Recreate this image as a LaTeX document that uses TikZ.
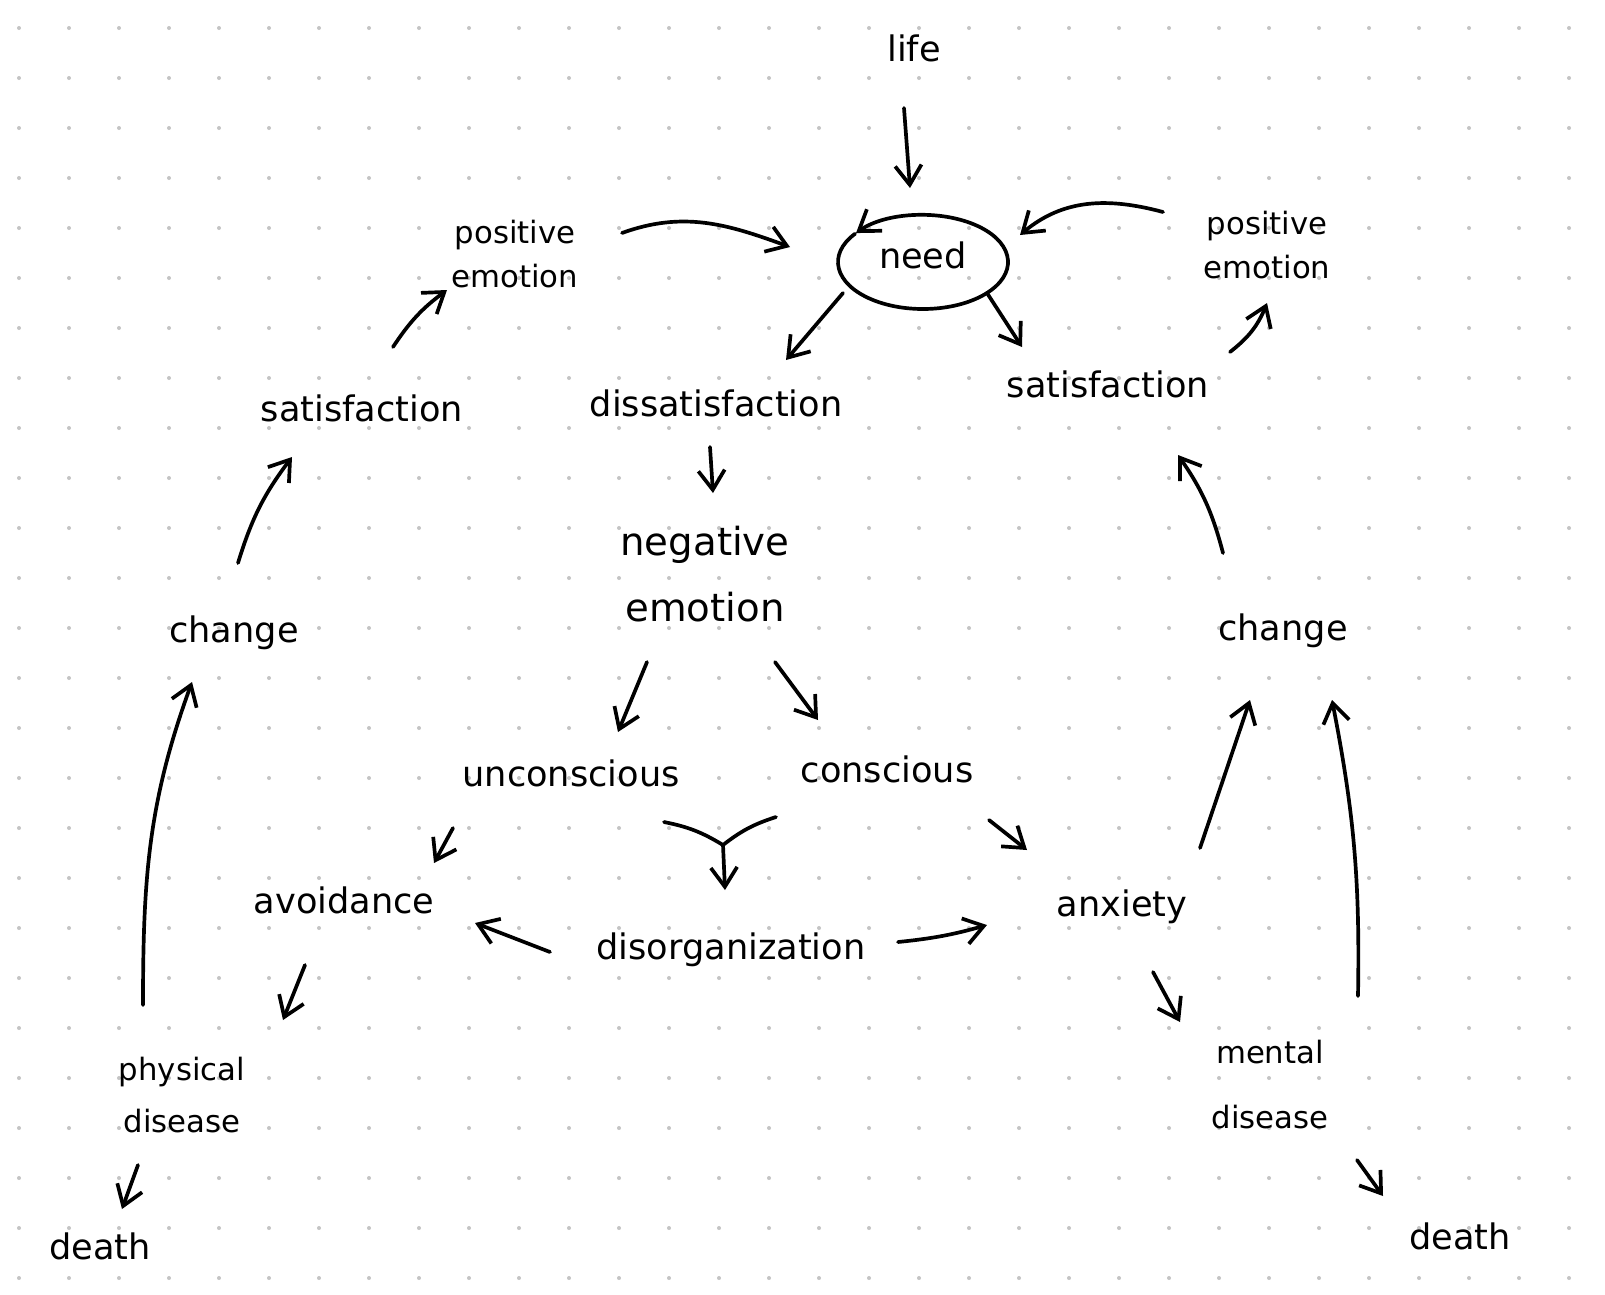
\documentclass[tikz,border=0pt]{standalone}
\usepackage{fontspec}
\setmainfont{DejaVu Sans}
\usetikzlibrary{arrows.meta}
\definecolor{dotgray}{RGB}{196,196,196}
\tikzset{
  word/.style={font=\fontsize{20}{24}\selectfont, text height=1.5ex, text depth=.25ex, inner sep=0pt},
  pair/.style={align=center, inner sep=0pt},
  pen/.style={line width=2.1pt, line cap=round, line join=round},
  arr/.style={pen, -{Straight Barb[length=11pt,width=15pt]}}
}
\begin{document}
\begin{tikzpicture}
\fill[white] (0,0) rectangle (32.1,-25.88);
\useasboundingbox (0,0) rectangle (32.1,-25.88);
% dotted paper
\foreach \i in {0,...,31} \foreach \j in {0,...,25} \fill[dotgray] (0.38+\i,-0.56-\j) circle (0.04);
% words
\node[word] (life) at (18.28,-1.1) {life};
\node[word] (need) at (18.46,-5.24) {need};
\node[pair, font=\fontsize{17.5}{25.5}\selectfont] (posL) at (10.3,-5.08) {positive\\emotion};
\node[pair, font=\fontsize{17.5}{25.5}\selectfont] (posR) at (25.34,-4.9) {positive\\emotion};
\node[word] (satL) at (7.24,-8.3) {satisfaction};
\node[word] (dis) at (14.32,-8.2) {dissatisfaction};
\node[word] (satR) at (22.16,-7.82) {satisfaction};
\node[pair, font=\fontsize{22}{38}\selectfont] (neg) at (14.1,-11.48) {negative\\emotion};
\node[word] (chgL) at (4.68,-12.72) {change};
\node[word] (chgR) at (25.66,-12.68) {change};
\node[word] (unc) at (11.42,-15.6) {unconscious};
\node[word] (con) at (17.74,-15.52) {conscious};
\node[word] (avo) at (6.88,-18.14) {avoidance};
\node[word] (dsg) at (14.62,-19.06) {disorganization};
\node[word] (anx) at (22.44,-18.2) {anxiety};
\node[pair, font=\fontsize{17.5}{29.5}\selectfont] (phys) at (3.64,-21.9) {physical\\disease};
\node[pair, font=\fontsize{17.5}{37}\selectfont] (ment) at (25.4,-21.7) {mental\\disease};
\node[word] (dthL) at (2.0,-25.06) {death};
\node[word] (dthR) at (29.2,-24.86) {death};
\coordinate (merge) at (14.46,-16.9);
% need loop
\draw[arr] ([shift={(143:1.7 and 0.94)}]need.center) arc[start angle=143, end angle=502, x radius=1.7, y radius=0.94];
% arrows, top
\draw[arr] ([shift={(-0.2,-1.06)}]life.center) -- ([shift={(-0.26,1.48)}]need.center);
\draw[arr] ([shift={(2.14,0.42)}]posL.center) to[out=20,in=160] ([shift={(-2.66,0.3)}]need.center);
\draw[arr] ([shift={(-2.08,0.66)}]posR.center) to[out=165,in=40] ([shift={(1.94,0.54)}]need.center);
\draw[arr] ([shift={(-1.6,-0.62)}]need.center) -- ([shift={(1.4,1.0)}]dis.center);
\draw[arr] ([shift={(1.28,-0.62)}]need.center) -- ([shift={(-1.72,0.88)}]satR.center);
\draw[arr] ([shift={(2.44,0.78)}]satR.center) to[bend right=15] ([shift={(0,-1.16)}]posR.center);
\draw[arr] ([shift={(0.62,1.36)}]satL.center) to[bend left=10] ([shift={(-1.36,-0.72)}]posL.center);
% arrows, middle
\draw[arr] ([shift={(-0.12,-0.74)}]dis.center) -- ([shift={(0.16,1.62)}]neg.center);
\draw[arr] ([shift={(-1.16,-1.76)}]neg.center) -- ([shift={(0.94,0.96)}]unc.center);
\draw[arr] ([shift={(1.4,-1.76)}]neg.center) -- ([shift={(-1.38,1.12)}]con.center);
\draw[pen] ([shift={(1.86,-0.84)}]unc.center) to[bend left=10] (merge);
\draw[pen] ([shift={(-2.22,-0.82)}]con.center) to[bend right=10] (merge);
\draw[arr] (merge) -- ([shift={(-0.12,1.26)}]dsg.center);
\draw[arr] ([shift={(-2.36,-0.96)}]unc.center) -- ([shift={(1.8,0.88)}]avo.center);
\draw[arr] ([shift={(2.04,-0.88)}]con.center) -- ([shift={(-1.9,1.2)}]anx.center);
\draw[arr] ([shift={(-3.62,0.02)}]dsg.center) -- ([shift={(2.62,-0.32)}]avo.center);
\draw[arr] ([shift={(3.34,0.22)}]dsg.center) to[bend right=5] ([shift={(-2.7,-0.3)}]anx.center);
% left side
\draw[arr] ([shift={(0.08,1.46)}]chgL.center) to[bend left=10] ([shift={(-1.4,-0.84)}]satL.center);
\draw[arr] ([shift={(-0.78,-1.16)}]avo.center) -- ([shift={(2.02,1.5)}]phys.center);
\draw[arr] ([shift={(-0.78,1.8)}]phys.center) to[out=90,in=-110] ([shift={(-0.84,-0.92)}]chgL.center);
\draw[arr] ([shift={(-0.88,-1.4)}]phys.center) -- ([shift={(0.44,0.88)}]dthL.center);
% right side
\draw[arr] ([shift={(-1.2,1.62)}]chgR.center) to[bend right=10] ([shift={(1.4,-1.28)}]satR.center);
\draw[arr] ([shift={(1.56,1.24)}]anx.center) -- ([shift={(-0.66,-1.32)}]chgR.center);
\draw[arr] ([shift={(0.62,-1.24)}]anx.center) -- ([shift={(-1.8,1.26)}]ment.center);
\draw[arr] ([shift={(1.76,1.78)}]ment.center) to[bend right=6] ([shift={(0.98,-1.32)}]chgR.center);
\draw[arr] ([shift={(1.74,-1.5)}]ment.center) -- ([shift={(-1.54,0.94)}]dthR.center);
\end{tikzpicture}
\end{document}
